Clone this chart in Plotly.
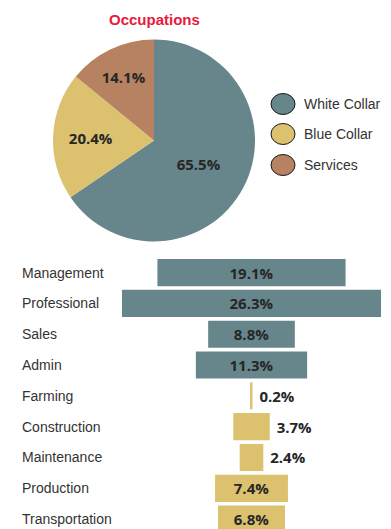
import plotly.graph_objects as go

# Pie data
groups = ['White Collar', 'Blue Collar', 'Services']
group_share = [65.5, 20.4, 14.1]
group_colors = ['#67868c', '#dcc16f', '#b78262']

# Bar data
occupations = ['Management', 'Professional', 'Sales', 'Admin', 'Farming',
               'Construction', 'Maintenance', 'Production', 'Transportation']
occ_share = [19.1, 26.3, 8.8, 11.3, 0.2, 3.7, 2.4, 7.4, 6.8]
occ_group = ['White Collar'] * 4 + ['Blue Collar'] * 5

# the page body has an 8px margin, so the figure is drawn 8px in and down
OFF = 8
W, H = 391 - OFF, 529 - OFF


def px_x(x):
    return (x - OFF) / W


def px_y(y):
    return 1 - (y - OFF) / H


label_font = dict(family='Open Sans, Arial, sans-serif', size=15, color='#262626')
text_font = dict(family='Liberation Sans, Arial, sans-serif', size=14, color='#333333')

fig = go.Figure()

# Pie
fig.add_trace(
    go.Pie(
        labels=groups,
        values=group_share,
        sort=False,
        direction='clockwise',
        rotation=0,
        marker=dict(colors=group_colors, line=dict(width=0)),
        texttemplate='<b>%{value:.1f}%</b>',
        textposition='inside',
        insidetextorientation='horizontal',
        textfont=label_font,
        showlegend=False,
        hoverinfo='label+percent',
        domain=dict(x=[px_x(53), px_x(255)], y=[px_y(241.5), px_y(39.5)]),
    )
)

# Centered bars
color_map = dict(zip(groups, group_colors))
bar_colors = [color_map[g] for g in occ_group]
positions = ['inside' if v > 5 else 'outside' for v in occ_share]
texts = [('<b>%.1f%%</b>' % v) if v > 5 else (' <b>%.1f%%</b>' % v) for v in occ_share]

fig.add_trace(
    go.Bar(
        y=occupations,
        x=occ_share,
        base=[-v / 2 for v in occ_share],
        orientation='h',
        marker=dict(color=bar_colors, line=dict(width=0)),
        text=texts,
        textposition=positions,
        insidetextanchor='middle',
        textfont=label_font,
        cliponaxis=True,
        showlegend=False,
    )
)

# Category labels left-aligned
annotations = []
for occ in occupations:
    annotations.append(dict(
        x=px_x(20), xref='paper', xanchor='left',
        y=occ, yref='y', yanchor='middle',
        text=occ, showarrow=False, font=text_font,
    ))

# Title
annotations.append(dict(
    x=px_x(154), y=px_y(20), xref='paper', yref='paper',
    xanchor='center', yanchor='middle', showarrow=False,
    text='<b>Occupations</b>',
    font=dict(family='Liberation Sans, Arial, sans-serif', size=15, color='#e8193c'),
))

# Legend (circles + text)
shapes = []
legend_y = [104, 134, 165]
for name, col, ly in zip(groups, group_colors, legend_y):
    shapes.append(dict(
        type='circle', xref='paper', yref='paper',
        x0=px_x(271), x1=px_x(295), y0=px_y(ly + 10.5), y1=px_y(ly - 10.5),
        fillcolor=col, line=dict(color='#1a1a1a', width=1),
    ))
    annotations.append(dict(
        x=px_x(302), y=px_y(ly), xref='paper', yref='paper',
        xanchor='left', yanchor='middle', showarrow=False,
        text=name, font=dict(family='Liberation Sans, Arial, sans-serif', size=14, color='#333333'),
    ))

# bar scale: ~9.85 px per percent, centred at x=251.5
left_px, right_px = 251.5 - OFF, W - (251.5 - OFF)
fig.update_layout(
    width=W,
    height=H,
    margin=dict(l=0, r=0, t=0, b=0),
    paper_bgcolor='white',
    plot_bgcolor='white',
    bargap=0.12,
    annotations=annotations,
    shapes=shapes,
    xaxis=dict(range=[-left_px / 9.85, right_px / 9.85], visible=False, domain=[0, 1], fixedrange=True),
    yaxis=dict(range=[8.32, -0.57], visible=False, domain=[0, px_y(255)], fixedrange=True,
               type='category', categoryorder='array', categoryarray=occupations),
)

fig.write_html("out.html", config=dict(displayModeBar=False))
